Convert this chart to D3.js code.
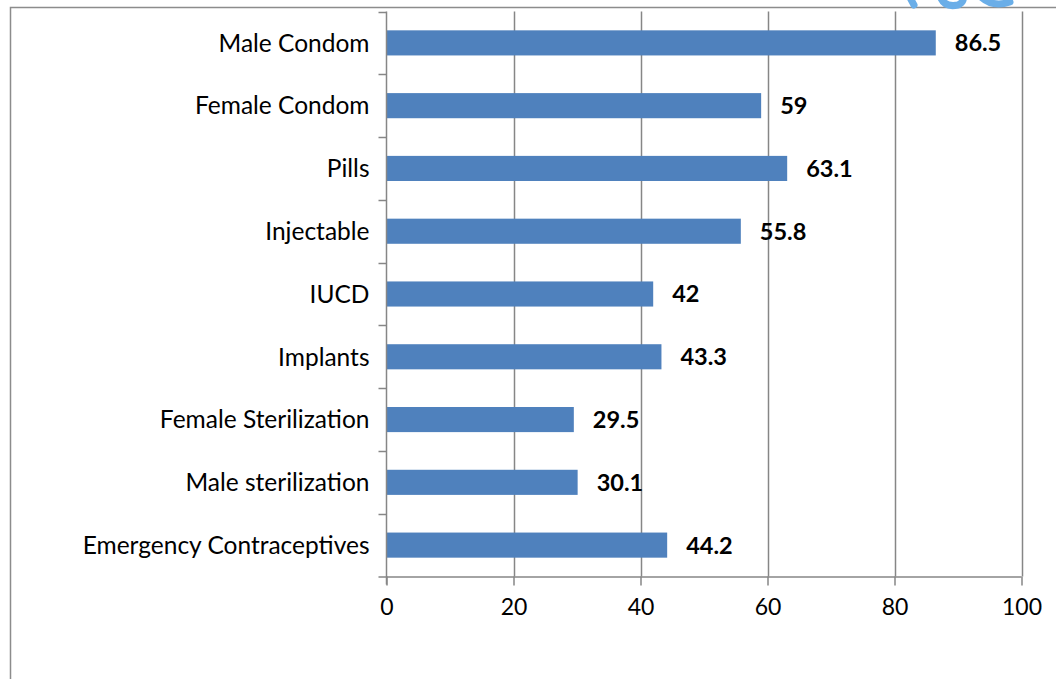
<!DOCTYPE html>
<html>
<head>
<meta charset="utf-8">
<script src="https://cdn.jsdelivr.net/npm/d3@7"></script>
<style>
  html, body { margin: 0; padding: 0; background: #fff; }
  svg { display: block; }
  text { font-family: Lato, "Open Sans", sans-serif; fill: #000; }
</style>
</head>
<body>
<svg id="chart" width="1056" height="679"></svg>
<script>
// Contraceptive methods and their percentages
const methods = [
  "Male Condom",
  "Female Condom",
  "Pills",
  "Injectable",
  "IUCD",
  "Implants",
  "Female Sterilization",
  "Male sterilization",
  "Emergency Contraceptives"
];
const percents = [86.5, 59, 63.1, 55.8, 42, 43.3, 29.5, 30.1, 44.2];
const valueLabels = ["86.5", "59", "63.1", "55.8", "42", "43.3", "29.5", "30.1", "44.2"];
const xTicks = [0, 20, 40, 60, 80, 100];

const rows = methods.map((m, i) => ({ method: m, value: percents[i], label: valueLabels[i] }));

const svg = d3.select("#chart");
const plot = { left: 386.5, right: 1021.5, top: 11.5, bottom: 576.5 };
const gridColor = "#868686";

// Outer chart frame
svg.append("rect")
  .attr("x", 10.5).attr("y", 7.5)
  .attr("width", 1100).attr("height", 700)
  .attr("fill", "none").attr("stroke", "#8c8c8c").attr("stroke-width", 1.5);

// Decorative blue strokes peeking in at the top right
const deco = svg.append("g").attr("fill", "none").attr("stroke", "#6aaee8")
  .attr("stroke-width", 7).attr("stroke-linecap", "round");
deco.append("path").attr("d", "M 908 -6 L 914 5");
deco.append("path").attr("d", "M 940 -4 Q 944 8 958 5 Q 966 1 962 -6");
deco.append("path").attr("d", "M 980 -4 Q 992 8 1010 2");

const x = d3.scaleLinear().domain([0, 100]).range([plot.left, plot.right]);
const y = d3.scaleBand().domain(methods).range([plot.top, plot.bottom]).paddingInner(0.6).paddingOuter(0.3);
const yEdges = d3.scaleBand().domain(methods).range([plot.top, plot.bottom]).padding(0);

// Vertical gridlines
svg.append("g")
  .selectAll("line")
  .data(xTicks.filter(t => t > 0))
  .join("line")
  .attr("x1", d => Math.round(x(d)) + 0.5).attr("x2", d => Math.round(x(d)) + 0.5)
  .attr("y1", plot.top).attr("y2", plot.bottom)
  .attr("stroke", gridColor).attr("stroke-width", 1.5);

// Bars
svg.append("g")
  .selectAll("rect")
  .data(rows)
  .join("rect")
  .attr("x", x(0))
  .attr("y", d => y(d.method))
  .attr("width", d => x(d.value) - x(0))
  .attr("height", y.bandwidth())
  .attr("fill", "#4f81bd");

// Value labels
svg.append("g")
  .selectAll("text")
  .data(rows)
  .join("text")
  .attr("x", d => x(d.value) + 19)
  .attr("y", d => y(d.method) + y.bandwidth() / 2)
  .attr("dy", "0.36em")
  .attr("font-size", 23.5)
  .attr("font-weight", "bold")
  .text(d => d.label);

// X axis
const xAxis = d3.axisBottom(x).tickValues(xTicks).tickSize(9).tickPadding(13).tickFormat(d3.format("d"));
const gx = svg.append("g").attr("transform", `translate(0,${plot.bottom})`).call(xAxis);
gx.select(".domain").attr("d", `M${plot.left - 8},0.5H${plot.right}`).attr("stroke", gridColor).attr("stroke-width", 1.5);
gx.selectAll(".tick line").attr("stroke", gridColor).attr("stroke-width", 1.5);
gx.selectAll(".tick text").attr("font-size", 23).attr("font-family", "Lato, sans-serif").attr("fill", "#000");

// Y axis line with tick marks at category boundaries
const gy = svg.append("g");
gy.append("line")
  .attr("x1", plot.left).attr("x2", plot.left)
  .attr("y1", plot.top).attr("y2", plot.bottom + 8)
  .attr("stroke", gridColor).attr("stroke-width", 1.5);
gy.selectAll("line.tick")
  .data(methods)
  .join("line")
  .attr("class", "tick")
  .attr("x1", plot.left - 8).attr("x2", plot.left)
  .attr("y1", d => Math.round(yEdges(d)) + 0.5).attr("y2", d => Math.round(yEdges(d)) + 0.5)
  .attr("stroke", gridColor).attr("stroke-width", 1.5);

// Category labels
svg.append("g")
  .selectAll("text")
  .data(rows)
  .join("text")
  .attr("x", plot.left - 17)
  .attr("y", d => y(d.method) + y.bandwidth() / 2)
  .attr("dy", "0.36em")
  .attr("text-anchor", "end")
  .attr("font-size", 24.5)
  .text(d => d.method);
</script>
</body>
</html>
